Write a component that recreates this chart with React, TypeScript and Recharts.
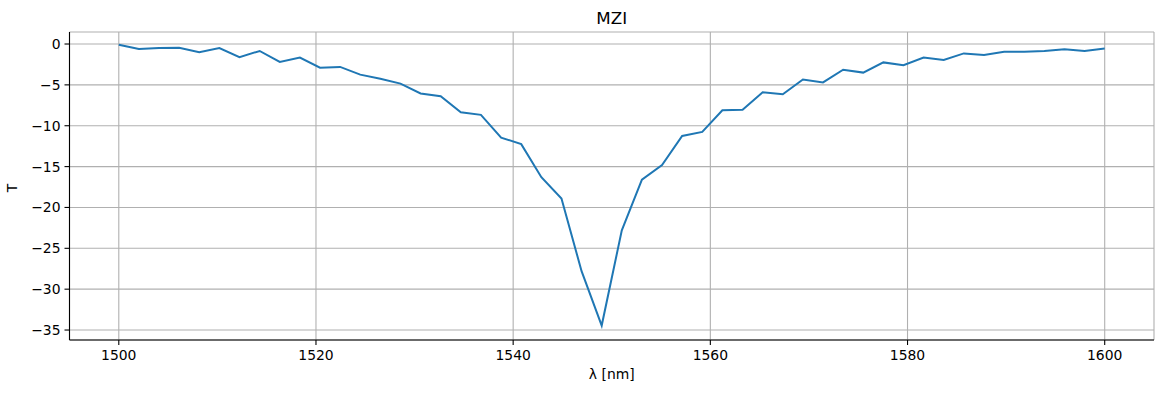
import { LineChart, Line, XAxis, YAxis, CartesianGrid } from 'recharts';

document.body.style.margin = '0';

// wavelength samples, 50 points from 1500 to 1600 nm
const wavelengths = [
  1500, 1502.04, 1504.08, 1506.12, 1508.16, 1510.2, 1512.24, 1514.29, 1516.33, 1518.37,
  1520.41, 1522.45, 1524.49, 1526.53, 1528.57, 1530.61, 1532.65, 1534.69, 1536.73, 1538.78,
  1540.82, 1542.86, 1544.9, 1546.94, 1548.98, 1551.02, 1553.06, 1555.1, 1557.14, 1559.18,
  1561.22, 1563.27, 1565.31, 1567.35, 1569.39, 1571.43, 1573.47, 1575.51, 1577.55, 1579.59,
  1581.63, 1583.67, 1585.71, 1587.76, 1589.8, 1591.84, 1593.88, 1595.92, 1597.96, 1600,
];

// transmission T
const transmission = [
  -0.1, -0.6, -0.5, -0.45, -1.0, -0.5, -1.6, -0.85, -2.2, -1.65,
  -2.9, -2.8, -3.75, -4.25, -4.85, -6.05, -6.4, -8.35, -8.67, -11.45,
  -12.25, -16.3, -18.9, -27.8, -34.45, -22.8, -16.6, -14.8, -11.25, -10.75,
  -8.1, -8.05, -5.9, -6.15, -4.35, -4.7, -3.15, -3.5, -2.25, -2.6,
  -1.65, -1.95, -1.15, -1.35, -0.95, -0.95, -0.85, -0.65, -0.85, -0.55,
];

const xTicks = [1500, 1520, 1540, 1560, 1580, 1600];
const yTicks = [-35, -30, -25, -20, -15, -10, -5, 0];

const data = wavelengths.map((x, i) => ({ x, t: transmission[i] }));

const FONT = 'DejaVu Sans, sans-serif';
const fmt = (v: number) => String(v).replace('-', '\u2212');

// plot area: x 69.5..1154, y 32..340
const PLOT_CX = (69.5 + 1154) / 2;

const YLabel = (props: any) => {
  const vb = props.viewBox;
  const cy = vb.y + vb.height / 2 + 2;
  return (
    <g>
      <text
        x={16.5}
        y={cy}
        transform={`rotate(-90 16.5 ${cy})`}
        textAnchor="middle"
        fontSize={13.9}
        fontFamily={FONT}
        fill="#000"
      >
        T
      </text>
      {/* title */}
      <text x={PLOT_CX} y={23.5} textAnchor="middle" fontSize={16.7} fontFamily={FONT} fill="#000">
        MZI
      </text>
    </g>
  );
};

const XLabel = (props: any) => {
  const vb = props.viewBox;
  return (
    <text
      x={vb.x + vb.width / 2}
      y={378.5}
      textAnchor="middle"
      fontSize={13.9}
      fontFamily={FONT}
      fill="#000"
    >
      λ [nm]
    </text>
  );
};

export default function App() {
  const xDomain = [1495, 1605];
  const yDomain = [-36.22, 1.47];
  return (
    <div style={{ width: 1163, height: 393, background: '#fff', fontFamily: FONT }}>
      <LineChart
        width={1163}
        height={393}
        data={data}
        margin={{ top: 32, right: 9, bottom: 0, left: 10 }}
      >
        <CartesianGrid stroke="#b0b0b0" strokeWidth={1.1} />
        <XAxis
          dataKey="x"
          type="number"
          domain={xDomain}
          allowDataOverflow
          ticks={xTicks}
          height={53}
          stroke="#000"
          strokeWidth={1.1}
          tickSize={5}
          tickMargin={5}
          tick={{ fill: '#000', fontSize: 13.9, fontFamily: FONT }}
          label={<XLabel />}
        />
        <XAxis
          xAxisId="top"
          orientation="top"
          dataKey="x"
          type="number"
          domain={xDomain}
          allowDataOverflow
          height={0}
          tick={false}
          tickLine={false}
          stroke="#000"
          strokeWidth={1.1}
        />
        <YAxis
          type="number"
          domain={yDomain}
          allowDataOverflow
          ticks={yTicks}
          width={59.5}
          stroke="#000"
          strokeWidth={1.1}
          tickSize={5}
          tickMargin={4}
          tickFormatter={fmt}
          tick={{ fill: '#000', fontSize: 13.9, fontFamily: FONT }}
          label={<YLabel />}
        />
        <YAxis
          yAxisId="right"
          orientation="right"
          type="number"
          domain={yDomain}
          allowDataOverflow
          width={0}
          tick={false}
          tickLine={false}
          stroke="#000"
          strokeWidth={1.1}
        />
        <Line
          dataKey="t"
          type="linear"
          stroke="#1f77b4"
          strokeWidth={2}
          dot={false}
          isAnimationActive={false}
        />
      </LineChart>
    </div>
  );
}
